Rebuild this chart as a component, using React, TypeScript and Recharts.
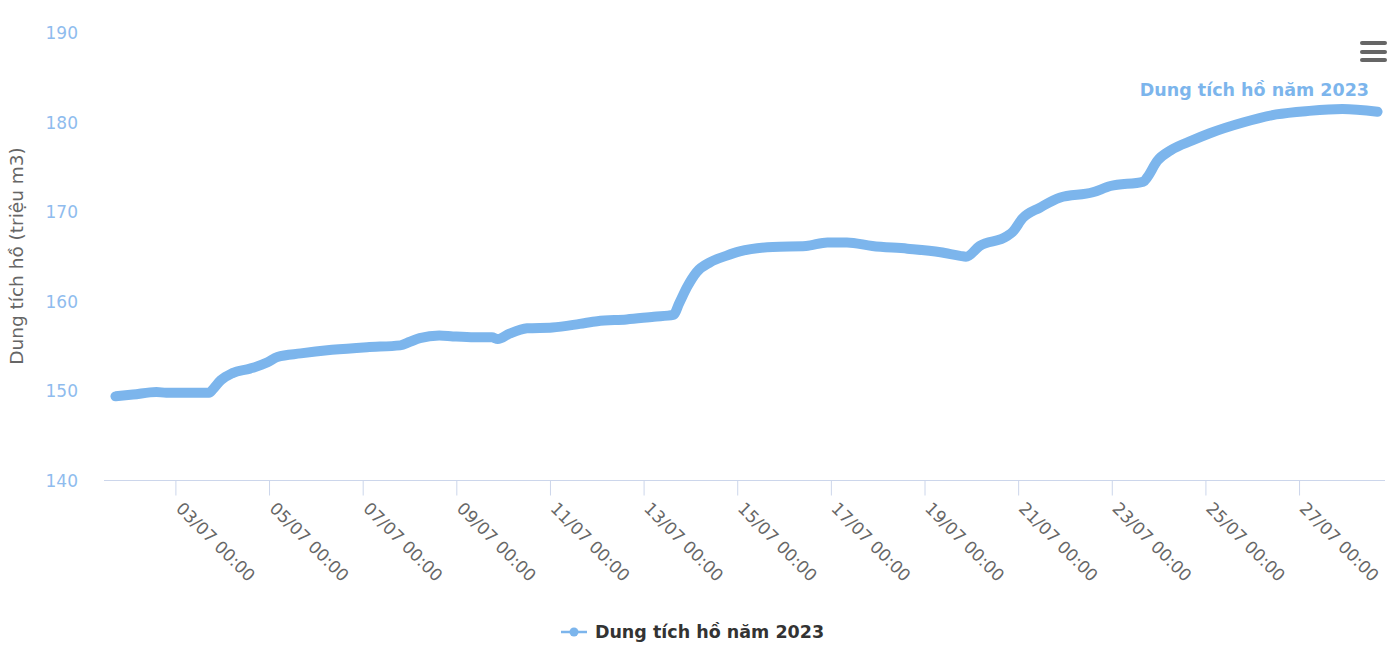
import React from 'react';
import { LineChart, Line, XAxis, YAxis, Legend } from 'recharts';

// Hours elapsed since 01/07/2023 00:00
const HOURS = [17, 26, 38, 43, 55, 65, 67, 71, 77, 86, 95, 100, 112, 128, 146, 163, 168, 173, 183, 190, 201, 210, 213, 219, 228, 241, 255, 264, 279, 293, 303, 306, 310, 315, 322, 330, 337, 354, 371, 382, 392, 405, 423, 440, 450, 453, 460, 474, 477, 482, 491, 501, 518, 527, 544, 546, 551, 558, 569, 578, 595, 612, 629, 646, 664];
// Reservoir volume (million m3)
const VOLUMES = [149.4, 149.6, 149.9, 149.8, 149.8, 149.8, 150.2, 151.2, 152.0, 152.5, 153.2, 153.8, 154.2, 154.6, 154.9, 155.1, 155.5, 155.9, 156.2, 156.1, 156.0, 156.0, 155.8, 156.4, 157.0, 157.1, 157.5, 157.8, 158.0, 158.3, 158.5, 159.8, 161.6, 163.3, 164.4, 165.1, 165.6, 166.1, 166.2, 166.6, 166.6, 166.2, 165.9, 165.5, 165.1, 165.0, 166.2, 167.3, 167.8, 169.3, 170.5, 171.6, 172.2, 172.9, 173.4, 173.9, 175.7, 176.9, 178.0, 178.8, 180.0, 180.9, 181.3, 181.5, 181.2];

const X_TICKS = [48, 96, 144, 192, 240, 288, 336, 384, 432, 480, 528, 576, 624];
const X_TICK_LABELS = ['03/07 00:00', '05/07 00:00', '07/07 00:00', '09/07 00:00', '11/07 00:00', '13/07 00:00', '15/07 00:00', '17/07 00:00', '19/07 00:00', '21/07 00:00', '23/07 00:00', '25/07 00:00', '27/07 00:00'];
const Y_TICKS = [140, 150, 160, 170, 180, 190];

const SERIES_NAME = 'Dung tích hồ năm 2023';
const Y_TITLE = 'Dung tích hồ (triệu m3)';
const COLOR = '#7cb5ec';
const FONT = '"DejaVu Sans", Verdana, sans-serif';

const data = HOURS.map((h, i) => ({ h, v: VOLUMES[i] }));

const XTick = (props: any) => {
  const { x, y, payload } = props;
  const idx = X_TICKS.indexOf(payload.value);
  const label = idx >= 0 ? X_TICK_LABELS[idx] : '';
  const ax = x - 1;
  const ay = y + 12;
  return (
    <text
      x={ax}
      y={ay}
      transform={`rotate(45 ${ax} ${ay})`}
      textAnchor="start"
      fontSize={17}
      fill="#666666"
      fontFamily={FONT}
    >
      {label}
    </text>
  );
};

const LegendContent = () => (
  <div style={{ height: 40, display: 'flex', justifyContent: 'center', alignItems: 'center' }}>
    <svg width={26} height={12} style={{ marginRight: 8 }}>
      <line x1={0} y1={6} x2={26} y2={6} stroke={COLOR} strokeWidth={2.5} />
      <circle cx={13} cy={6} r={4.5} fill={COLOR} />
    </svg>
    <span style={{ fontFamily: FONT, fontSize: 17.5, fontWeight: 'bold', color: '#333333' }}>{SERIES_NAME}</span>
  </div>
);

export default function App() {
  return (
    <div style={{ position: 'absolute', left: 0, top: 0, width: 1392, height: 653, background: '#ffffff', fontFamily: FONT }}>
      <LineChart width={1392} height={653} data={data} margin={{ top: 33, right: 7, bottom: 1.5, left: 0 }}>
        <XAxis
          dataKey="h"
          type="number"
          domain={[11.14, 667.8]}
          allowDataOverflow
          ticks={X_TICKS}
          interval={0}
          tick={<XTick />}
          tickSize={15}
          tickLine={{ stroke: '#ccd6eb' }}
          axisLine={{ stroke: '#ccd6eb' }}
          height={131}
        />
        <YAxis
          type="number"
          domain={[140, 190]}
          ticks={Y_TICKS}
          interval={0}
          width={104}
          axisLine={false}
          tickLine={false}
          tickSize={0}
          tickMargin={26}
          tick={{ fill: '#8fbcee', fontSize: 17, fontFamily: FONT }}
          label={{
            content: () => (
              <text
                x={23}
                y={256}
                transform="rotate(-90 23 256)"
                textAnchor="middle"
                fontSize={18.5}
                fill="#666666"
                fontFamily={FONT}
              >
                {Y_TITLE}
              </text>
            ),
          }}
        />
        <Legend verticalAlign="bottom" align="center" content={<LegendContent />} wrapperStyle={{ height: 40 }} />
        <Line
          type="monotone"
          dataKey="v"
          name={SERIES_NAME}
          stroke={COLOR}
          strokeWidth={10}
          strokeLinecap="round"
          strokeLinejoin="round"
          dot={false}
          activeDot={false}
          isAnimationActive={false}
        />
      </LineChart>
      <svg width={1392} height={653} style={{ position: 'absolute', left: 0, top: 0, pointerEvents: 'none' }}>
        <text x={1369} y={96} textAnchor="end" fontSize={17.5} fontWeight="bold" fill={COLOR} fontFamily={FONT}>
          {SERIES_NAME}
        </text>
        <rect x={1360} y={41} width={27} height={4} rx={2} fill="#666666" />
        <rect x={1360} y={50} width={27} height={4} rx={2} fill="#666666" />
        <rect x={1360} y={58} width={27} height={4} rx={2} fill="#666666" />
      </svg>
    </div>
  );
}
